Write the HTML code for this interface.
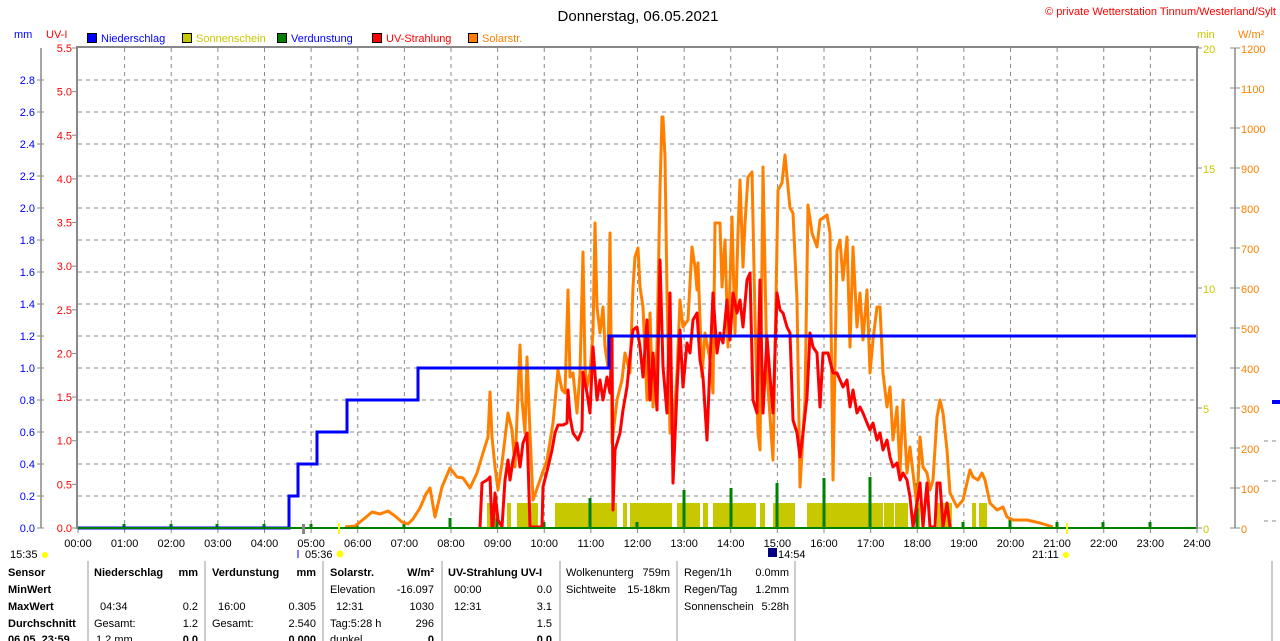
<!DOCTYPE html>
<html><head><meta charset="utf-8"><style>
html,body{margin:0;padding:0;background:#fff;width:1280px;height:641px;overflow:hidden}
svg{display:block;font-family:"Liberation Sans",sans-serif}
</style></head><body>
<svg id="s" width="1280" height="641" viewBox="0 0 1280 641" xmlns="http://www.w3.org/2000/svg">
<text x="638" y="21" font-size="15" text-anchor="middle" fill="#000">Donnerstag, 06.05.2021</text>
<text x="1276" y="15" font-size="11" text-anchor="end" fill="#f00">© private Wetterstation Tinnum/Westerland/Sylt</text>
<text x="14" y="38" font-size="11" fill="#00f">mm</text>
<text x="46" y="38" font-size="11" fill="#f00">UV-I</text>
<text x="1197" y="38" font-size="11" fill="#c8c800">min</text>
<text x="1238" y="38" font-size="11" fill="#ff8000">W/m²</text>
<g font-size="11">
<rect x="87.5" y="33.5" width="9" height="9" fill="#00f" stroke="#000"/><text x="101" y="42" fill="#00f">Niederschlag</text>
<rect x="182.5" y="33.5" width="9" height="9" fill="#c8c800" stroke="#000"/><text x="196" y="42" fill="#c8c800">Sonnenschein</text>
<rect x="277.5" y="33.5" width="9" height="9" fill="#008000" stroke="#000"/><text x="291" y="42" fill="#00f">Verdunstung</text>
<rect x="372.5" y="33.5" width="9" height="9" fill="#f00" stroke="#000"/><text x="386" y="42" fill="#f00">UV-Strahlung</text>
<rect x="468.5" y="33.5" width="9" height="9" fill="#ff8000" stroke="#000"/><text x="482" y="42" fill="#ff8000">Solarstr.</text>
</g>
<g id="grid"></g>
<g id="axes"></g>
<g id="sun" fill="#c8c800"></g>
<g id="evap" fill="#008000"></g>
<polyline id="sol" fill="none" stroke="#ff8000" stroke-width="3" stroke-linejoin="round"/>
<polyline id="uv" fill="none" stroke="#f00" stroke-width="3" stroke-linejoin="round"/>
<polyline fill="none" stroke="#00f" stroke-width="3" points="78,528 289,528 289,496 298,496 298,464 317,464 317,432 347,432 347,400 418,400 418,368 609,368 609,336 1197,336"/>
<rect x="1272" y="400" width="8" height="4" fill="#00f"/>
<line x1="78" y1="528" x2="1197" y2="528" stroke="#008000" stroke-width="2"/>
<rect x="76" y="46" width="2" height="483" fill="#888"/>
<rect x="76" y="46" width="1123" height="2" fill="#888"/>
<rect x="1196" y="46" width="2" height="483" fill="#888"/>
<g id="bot" font-size="11"></g>
</svg>
<script>
const NS="http://www.w3.org/2000/svg";
function el(p,t,a,txt){const e=document.createElementNS(NS,t);for(const k in a)e.setAttribute(k,a[k]);if(txt!==undefined)e.textContent=txt;document.getElementById(p).appendChild(e);return e;}
const X=h=>78+h*46.625;
for(let h=1;h<24;h++)el("grid","line",{x1:X(h),y1:48,x2:X(h),y2:528,stroke:"#888","stroke-dasharray":"4,4"});
for(let i=1;i<15;i++){const y=528-i*32;el("grid","line",{x1:78,y1:y,x2:1197,y2:y,stroke:"#888","stroke-dasharray":"4,4"});}
for(let i=0;i<3;i++)el("grid","line",{x1:1264,y1:441+i*40,x2:1280,y2:441+i*40,stroke:"#888","stroke-dasharray":"4,4"});
// left mm axis
el("axes","line",{x1:41,y1:48,x2:41,y2:528,stroke:"#888","stroke-width":1.5});
for(let i=0;i<=14;i++){const y=528-i*32;el("axes","line",{x1:37,y1:y,x2:44,y2:y,stroke:"#888"});el("axes","text",{x:35,y:y+4,"font-size":11,"text-anchor":"end",fill:"#00f"},(i*0.2).toFixed(1));}
for(let i=0;i<=11;i++){const y=528-i*480/11;el("axes","line",{x1:72,y1:y,x2:78,y2:y,stroke:"#888"});el("axes","text",{x:72,y:y+4,"font-size":11,"text-anchor":"end",fill:"#f00"},(i*0.5).toFixed(1));}
for(let i=0;i<=4;i++){const y=528-i*120;el("axes","line",{x1:1197,y1:y,x2:1202,y2:y,stroke:"#888"});el("axes","text",{x:1203,y:y+5,"font-size":11,fill:"#c8c800"},String(i*5));}
el("axes","line",{x1:1235,y1:48,x2:1235,y2:528,stroke:"#888","stroke-width":1.5});
for(let i=0;i<=12;i++){const y=528-i*40;el("axes","line",{x1:1230,y1:y,x2:1240,y2:y,stroke:"#888"});el("axes","text",{x:1241,y:y+5,"font-size":11,fill:"#ff8000"},String(i*100));}
for(let h=0;h<=24;h++){el("axes","line",{x1:X(h),y1:528,x2:X(h),y2:533,stroke:"#888"});el("axes","text",{x:X(h),y:547,"font-size":11,"text-anchor":"middle",fill:"#000"},(h<10?"0":"")+h+":00");}
// sunshine
[[487,497],[507,511],[517,538],[555,617],[623,627],[630,672],[677,700],[703,708],[713,756],[760,765],[773,795],[807,883],[884,894],[895,908],[917,920],[937,952],[972,976],[979,987]].forEach(r=>el("sun","rect",{x:r[0],y:503,width:r[1]-r[0],height:25}));
// evaporation
[[124,524],[171,524],[217,524],[264,524],[311,524],[357,524],[404,524],[450,518],[497,518],[544,522],[590,498],[637,522],[684,490],[731,488],[777,483],[824,478],[870,477],[917,483],[963,522],[1010,518],[1057,522],[1103,522],[1150,522]].forEach(p=>el("evap","rect",{x:p[0]-1.5,y:p[1],width:3,height:528-p[1]}));
document.getElementById("sol").setAttribute("points","345,527 355,526 365,518 372,512 380,514 388,511 395,516 402,522 408,524 413,519 420,508 426,494 430,488 435,517 442,487 450,468 457,477 463,478 470,488 477,473 483,453 488,437 490,392 492,437 495,467 498,490 502,463 508,413 512,430 515,467 520,345 522,400 525,433 527,357 530,433 533,500 540,480 547,460 553,423 558,370 562,390 565,393 568,290 570,377 573,373 577,413 580,373 583,252 585,367 587,387 590,373 593,333 595,223 597,307 600,333 603,307 605,347 608,367 610,233 612,443 617,400 622,380 625,353 630,373 633,287 635,257 638,248 640,287 643,307 647,400 650,313 653,407 657,347 660,190 662,117 663,117 665,157 667,293 670,433 673,433 677,373 680,300 683,327 688,320 692,247 695,267 697,290 698,263 702,377 705,333 710,360 713,393 715,223 720,223 722,287 725,240 728,347 732,217 735,333 738,233 740,180 743,267 745,223 748,177 752,172 755,317 758,433 760,450 763,167 767,373 773,460 778,190 782,183 785,155 788,187 790,208 793,213 797,300 800,487 805,400 808,205 812,233 817,247 820,220 827,215 830,233 833,480 837,250 840,240 843,280 847,237 850,347 853,247 857,327 860,293 863,340 867,290 870,373 873,340 877,307 880,307 883,373 887,407 890,387 893,440 897,407 900,473 903,400 907,473 910,447 913,473 917,507 920,437 923,467 927,473 930,490 933,480 937,417 940,400 943,413 947,450 950,493 957,507 963,500 970,470 973,477 978,480 982,473 985,480 990,503 997,510 1003,507 1007,517 1013,520 1027,520 1040,523 1053,527");
document.getElementById("uv").setAttribute("points","480,527 482,483 487,480 490,477 492,527 493,527 495,493 498,520 502,527 505,480 508,460 510,480 513,460 517,443 520,467 523,443 527,433 528,460 530,527 537,527 542,527 543,487 548,467 552,450 555,433 558,425 563,425 567,423 568,390 570,417 573,433 578,440 582,430 583,372 587,393 590,413 593,347 597,400 600,380 603,400 607,377 610,393 612,337 613,510 615,450 620,433 623,410 627,387 630,357 633,330 637,327 640,347 643,377 647,320 650,400 653,353 657,410 660,260 663,367 667,413 670,293 673,483 677,390 680,330 683,387 687,343 690,353 693,320 697,313 700,360 703,377 707,440 710,363 713,293 717,353 720,333 723,343 727,300 730,340 733,293 737,313 740,300 743,327 747,280 750,273 753,400 757,413 760,280 763,413 767,337 770,377 773,413 777,293 780,310 783,313 787,327 790,333 793,420 797,433 800,457 803,433 807,397 810,333 813,347 817,353 820,407 823,353 828,353 833,373 837,373 840,380 843,387 847,380 850,407 853,390 857,413 860,407 863,413 867,423 870,430 873,423 877,440 880,433 883,450 887,440 890,457 893,467 897,463 900,480 903,473 907,480 910,497 913,527 917,503 920,483 923,527 927,483 930,527 935,527 937,483 940,483 943,527 947,503 950,527");
// bottom markers
el("bot","line",{x1:339,y1:523,x2:339,y2:534,stroke:"#ff0","stroke-width":2});
el("bot","line",{x1:1067,y1:523,x2:1067,y2:534,stroke:"#ff0","stroke-width":2});
el("bot","rect",{x:302,y:524,width:3,height:10,fill:"#888"});
el("bot","text",{x:10,y:558,fill:"#000"},"15:35");
el("bot","circle",{cx:45,cy:555,r:3,fill:"#ff0"});
el("bot","text",{x:305,y:558,fill:"#000"},"05:36");
el("bot","circle",{cx:340,cy:554,r:3.5,fill:"#ff0"});
el("bot","line",{x1:298,y1:550,x2:298,y2:558,stroke:"#00f"});
el("bot","rect",{x:768,y:548,width:9,height:9,fill:"#000080"});
el("bot","text",{x:778,y:558,fill:"#000"},"14:54");
el("bot","text",{x:1032,y:558,fill:"#000"},"21:11");
el("bot","circle",{cx:1066,cy:555,r:3,fill:"#ff0"});
[88,205,323,442,560,677,795].forEach(x=>el("bot","line",{x1:x,y1:561,x2:x,y2:641,stroke:"#999"}));
el("bot","line",{x1:1272,y1:561,x2:1272,y2:641,stroke:"#999"});
const rows=[576,593,610,627,643];
const T=(x,y,t,o)=>el("bot","text",Object.assign({x:x,y:y,fill:"#000"},o||{}),t);
const B={"font-weight":"bold"},R={"text-anchor":"end"},RB={"text-anchor":"end","font-weight":"bold"};
T(8,rows[0],"Sensor",B);T(8,rows[1],"MinWert",B);T(8,rows[2],"MaxWert",B);T(8,rows[3],"Durchschnitt",B);T(8,rows[4],"06.05. 23:59",B);
T(94,rows[0],"Niederschlag",B);T(198,rows[0],"mm",RB);T(100,rows[2],"04:34");T(198,rows[2],"0.2",R);T(94,rows[3],"Gesamt:");T(198,rows[3],"1.2",R);T(96,rows[4],"1.2 mm");T(198,rows[4],"0.0",RB);
T(212,rows[0],"Verdunstung",B);T(316,rows[0],"mm",RB);T(218,rows[2],"16:00");T(316,rows[2],"0.305",R);T(212,rows[3],"Gesamt:");T(316,rows[3],"2.540",R);T(316,rows[4],"0.000",RB);
T(330,rows[0],"Solarstr.",B);T(434,rows[0],"W/m²",RB);T(330,rows[1],"Elevation");T(434,rows[1],"-16.097",R);T(336,rows[2],"12:31");T(434,rows[2],"1030",R);T(330,rows[3],"Tag:5:28 h");T(434,rows[3],"296",R);T(330,rows[4],"dunkel");T(434,rows[4],"0",RB);
T(448,rows[0],"UV-Strahlung UV-I",B);T(454,rows[1],"00:00");T(552,rows[1],"0.0",R);T(454,rows[2],"12:31");T(552,rows[2],"3.1",R);T(552,rows[3],"1.5",R);T(552,rows[4],"0.0",RB);
T(566,rows[0],"Wolkenunterg");T(670,rows[0],"759m",R);T(566,rows[1],"Sichtweite");T(670,rows[1],"15-18km",R);
T(684,rows[0],"Regen/1h");T(789,rows[0],"0.0mm",R);T(684,rows[1],"Regen/Tag");T(789,rows[1],"1.2mm",R);T(684,rows[2],"Sonnenschein");T(789,rows[2],"5:28h",R);
</script>
</body></html>
